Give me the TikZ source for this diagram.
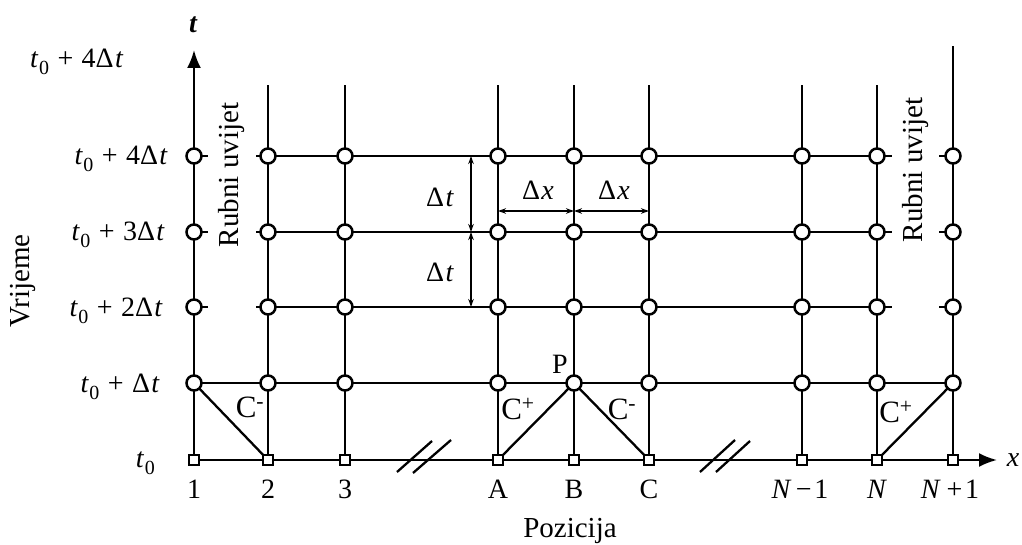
\documentclass[tikz,border=0pt]{standalone}
\usepackage{fontspec}
\setmainfont{Liberation Serif}
\usetikzlibrary{arrows.meta,backgrounds}

% t_0 with a lowered zero, and the row labels t_0 + k Delta t
\newcommand\tnull{\textit{t}\kern0.02em\raisebox{-0.25em}{\fontsize{20}{20}\selectfont 0}}
\newcommand\rowlab[1]{\tnull\hspace{0.3em}+\hspace{0.3em}#1Δ\kern0.05em\textit{t}}

\begin{document}
\begin{tikzpicture}[x=1pt,y=-1pt,
  gridline/.style={line width=2.3pt},
  knot/.style={circle,draw,fill=white,line width=2.5pt,minimum size=15pt,inner sep=0pt},
  basept/.style={rectangle,draw,fill=white,line width=2.3pt,minimum size=10pt,inner sep=0pt},
  lab/.style={font=\fontsize{28}{30}\selectfont,inner sep=0pt},
  clab/.style={font=\fontsize{31}{33}\selectfont,inner sep=0pt},
  biglab/.style={font=\fontsize{29}{31}\selectfont,inner sep=0pt},
  dimline/.style={line width=1.7pt,{Stealth[length=8pt,width=5.5pt]}-{Stealth[length=8pt,width=5.5pt]}},
  axistip/.style={-{Latex[length=18pt,width=14pt]}},
  cutmark/.style={line width=2.3pt}]
\useasboundingbox (0,0) rectangle (1022,545);

% grid points: squares on the initial line, circles on later time levels
\foreach \c/\x in {1/194,2/268,3/345,A/498,B/574,C/649,M/802,N/877,Q/953} {
  \node[basept] (g\c0) at (\x,460) {};
  \foreach \r/\y in {1/383,2/307,3/232,4/156}
    \node[knot] (g\c\r) at (\x,\y) {};
}

% upper ends of the vertical lines and the axis tips
\foreach \c/\x in {2/268,3/345,A/498,B/574,C/649,M/802,N/877}
  \coordinate (top\c) at (\x,85);
\coordinate (topQ) at (953,46);
\coordinate (taxis) at (194,50);
\coordinate (xaxis) at (997,460);

\begin{scope}[on background layer]
  % time axis and position axis
  \draw[gridline,axistip] (g10.center) -- (taxis);
  \draw[gridline,axistip] (g10.center) -- (xaxis);
  % vertical lines
  \foreach \c in {2,3,A,B,C,M,N,Q}
    \draw[gridline] (g\c0.center) -- (top\c);
  % first time level
  \draw[gridline] (g11.center) -- (gQ1.center);
  % interior time levels with short stubs at the boundaries
  \foreach \r in {2,3,4} {
    \draw[gridline] (g2\r.center) -- (gN\r.center);
    \draw[gridline] (g1\r.center) -- ++(14,0);
    \draw[gridline] (g2\r.center) -- ++(-12,0);
    \draw[gridline] (gN\r.center) -- ++(15,0);
    \draw[gridline] (gQ\r.center) -- ++(-14,0);
  }
  % characteristics
  \draw[gridline] (g11.center) -- (g20.center);
  \draw[gridline] (gA0.center) -- (gB1.center);
  \draw[gridline] (gB1.center) -- (gC0.center);
  \draw[gridline] (gN0.center) -- (gQ1.center);
\end{scope}

% breaks in the position axis
\draw[cutmark] (397,472) -- (432,441);
\draw[cutmark] (413,473) -- (451,440);
\draw[cutmark] (700,472) -- (735,440);
\draw[cutmark] (716,472) -- (750,441);

% step sizes
\coordinate (dt4) at (471,156);
\coordinate (dt3) at (471,232);
\coordinate (dt2) at (471,307);
\draw[dimline] (dt4) -- (dt3);
\draw[dimline] (dt3) -- (dt2);
\coordinate (dxA) at (498,211);
\coordinate (dxB) at (574,211);
\coordinate (dxC) at (649,211);
\draw[dimline] (dxA) -- (dxB);
\draw[dimline] (dxB) -- (dxC);
\node[lab] (ldt1) at (440,197) {Δ\kern0.05em\textit{t}};
\node[lab] (ldt2) at (440,272) {Δ\kern0.05em\textit{t}};
\node[lab] (ldx1) at (538,190) {Δ\kern0.05em\textit{x}};
\node[lab] (ldx2) at (614,190) {Δ\kern0.05em\textit{x}};

% time level labels
\node[lab,anchor=base west] (ltop) at (30,68) {\rowlab{4}};
\node[lab,anchor=base east] (lr4) at (168,165) {\rowlab{4}};
\node[lab,anchor=base east] (lr3) at (165,241) {\rowlab{3}};
\node[lab,anchor=base east] (lr2) at (163,316) {\rowlab{2}};
\node[lab,anchor=base east] (lr1) at (160,392) {\rowlab{}};
\node[lab,anchor=base east] (lr0) at (155,467) {\tnull};

% position labels
\foreach \c/\x/\t in {1/194/1,2/268/2,3/345/3,A/498/A,B/574/B,C/649/C,N/877/\textit{N}}
  \node[lab,anchor=base] (lc\c) at (\x,498) {\t};
\node[lab,anchor=base] (lcM) at (800,498) {\textit{N}\hspace{0.15em}−\hspace{0.1em}1};
\node[lab,anchor=base] (lcQ) at (950,498) {\textit{N}\hspace{0.2em}+\hspace{0.1em}1};

% axis names
\node[lab] (lt) at (193,25) {\bfseries\itshape t};
\node[lab] (lx) at (1013,460) {\itshape x};
\node[biglab,anchor=base] (lpos) at (570,537) {Pozicija};
\node[biglab,rotate=90] (ltime) at (23,281) {Vrijeme};
\node[biglab,rotate=90] (lbl) at (232,175) {Rubni uvijet};
\node[biglab,rotate=90] (lbr) at (916,170) {Rubni uvijet};

% characteristic labels
\node[lab] (lP) at (560,364) {P};
\node[clab] (lc1) at (250,407) {C\textsuperscript{-}};
\node[clab] (lc2) at (518,409) {C\textsuperscript{+}};
\node[clab] (lc3) at (622,409) {C\textsuperscript{-}};
\node[clab] (lc4) at (896,412) {C\textsuperscript{+}};
\end{tikzpicture}
\end{document}
